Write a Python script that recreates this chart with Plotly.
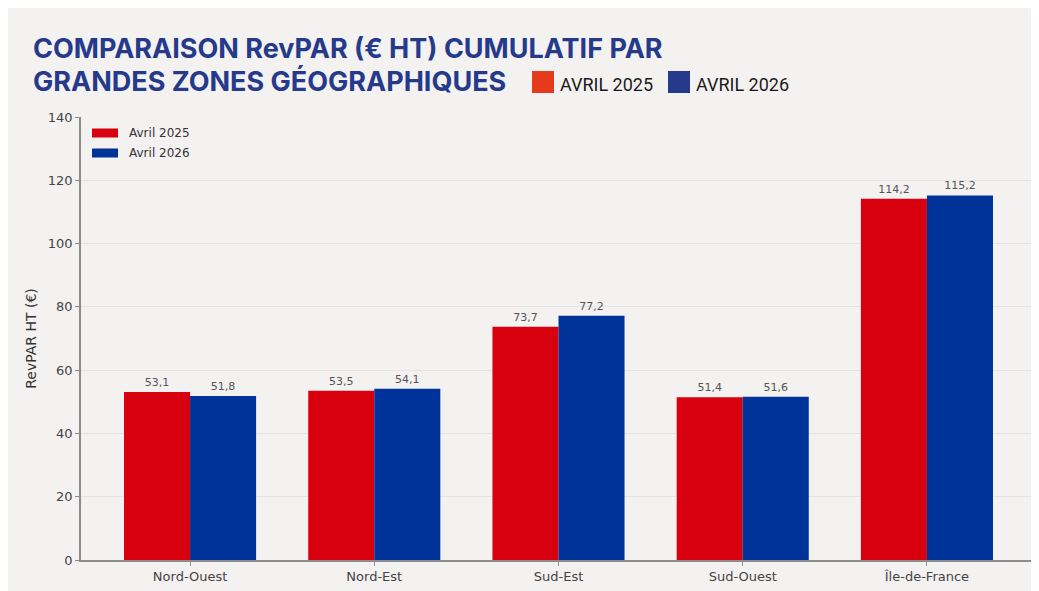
import plotly.graph_objects as go

categories = ["Nord-Ouest", "Nord-Est", "Sud-Est", "Sud-Ouest", "Île-de-France"]
avril_2025 = [53.1, 53.5, 73.7, 51.4, 114.2]
avril_2026 = [51.8, 54.1, 77.2, 51.6, 115.2]
y_ticks = [0, 20, 40, 60, 80, 100, 120, 140]
series_names = ["Avril 2025", "Avril 2026"]
title_lines = ["COMPARAISON RevPAR (€ HT) CUMULATIF PAR", "GRANDES ZONES GÉOGRAPHIQUES"]
header_legend = ["AVRIL 2025", "AVRIL 2026"]

OFF = 8  # page body margin
W, H = 1039 - OFF, 591 - OFF
L, R, T, B = 81 - OFF, 1036 - OFF, 117 - OFF, 560 - OFF
PANEL = "#f4f1f1"
RED = "#d8000f"
BLUE = "#003399"
NAVY = "#253a8a"
ORANGE = "#e63a1c"


def px(x):
    return (x - OFF - L) / (R - L)


def py(y):
    return (B - (y - OFF)) / (B - T)


fig = go.Figure()
for name, vals, col in [(series_names[0], avril_2025, RED), (series_names[1], avril_2026, BLUE)]:
    fig.add_trace(go.Bar(
        x=categories, y=vals, name=name, marker=dict(color=col, line=dict(width=0)),
        texttemplate="%{y:.1f}", textposition="outside", cliponaxis=False,
        textfont=dict(family="DejaVu Sans", size=11, color="#555555"),
        showlegend=False,
    ))

shapes = []
annotations = []

# title
for i, line in enumerate(title_lines):
    annotations.append(dict(
        text=line, xref="paper", yref="paper", x=px(31), y=py(48 + 33 * i),
        xanchor="left", yanchor="middle", showarrow=False,
        font=dict(family="Inter", size=27, color=NAVY, weight="bold"),
    ))

# header legend
for x0, label, col in [(532, header_legend[0], ORANGE), (668, header_legend[1], NAVY)]:
    shapes.append(dict(type="rect", xref="paper", yref="paper", x0=px(x0), x1=px(x0 + 22),
                       y0=py(93), y1=py(71), fillcolor=col, line=dict(width=0)))
    annotations.append(dict(
        text=label, xref="paper", yref="paper", x=px(x0 + 26), y=py(85),
        xanchor="left", yanchor="middle", showarrow=False,
        font=dict(family="Roboto", size=18, color="#1a1a1a"),
    ))

# inner legend
for yc, label, col in [(133, series_names[0], RED), (153, series_names[1], BLUE)]:
    shapes.append(dict(type="rect", xref="paper", yref="paper", x0=px(92), x1=px(118),
                       y0=py(yc + 4.5), y1=py(yc - 4.5), fillcolor=col, line=dict(width=0)))
    annotations.append(dict(
        text=label, xref="paper", yref="paper", x=px(127), y=py(yc),
        xanchor="left", yanchor="middle", showarrow=False,
        font=dict(family="DejaVu Sans", size=12, color="#333333"),
    ))

fig.update_layout(
    width=W, height=H,
    margin=dict(l=L, r=W - R, t=T, b=H - B, pad=0),
    paper_bgcolor=PANEL, plot_bgcolor=PANEL,
    separators=", ",
    barmode="group", bargap=0.283, bargroupgap=0,
    shapes=shapes, annotations=annotations,
    font=dict(family="DejaVu Sans", color="#444444"),
    xaxis=dict(
        range=[-0.592, 4.592], showgrid=False, showline=True, linecolor="#8c8c8c", linewidth=1.5,
        ticks="outside", ticklen=4, tickcolor="#8c8c8c", tickwidth=1,
        tickfont=dict(family="DejaVu Sans", size=13, color="#444444"),
        fixedrange=True,
    ),
    yaxis=dict(
        range=[0, 140], tickvals=y_ticks, showgrid=True, gridcolor="#e6e3e3", gridwidth=1,
        showline=True, linecolor="#8c8c8c", linewidth=1.5, zeroline=False,
        ticks="outside", ticklen=4, tickcolor="#8c8c8c", tickwidth=1,
        tickfont=dict(family="DejaVu Sans", size=13, color="#444444"),
        title=dict(text="RevPAR HT (€)", font=dict(family="DejaVu Sans", size=14, color="#333333"), standoff=8),
    ),
)

fig.write_html("out.html")
